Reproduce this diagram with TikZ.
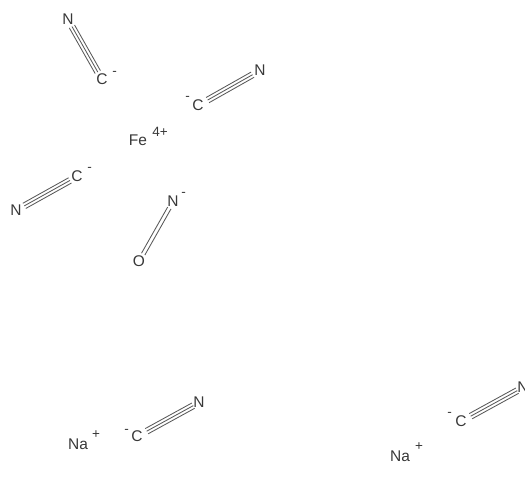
\documentclass[tikz,border=0pt]{standalone}
\usepackage{fontspec}
\usetikzlibrary{calc}
\setmainfont{Liberation Sans}
\definecolor{ink}{gray}{0.22}
\definecolor{bondc}{gray}{0.35}
\tikzset{
  atom/.style={text=ink,font=\fontsize{15.5}{15.5}\selectfont,inner sep=0pt},
  chg/.style={text=ink,font=\fontsize{13.5}{13.5}\selectfont,inner sep=0pt},
  minus/.style={chg,yshift=-1.5pt,xshift=.5pt},
  bondline/.style={draw=bondc,line width=.85pt},
}
\newcommand{\bondends}[4]{%
  \coordinate (bs) at ($(#1)!#3pt!(#2)$);
  \coordinate (be) at ($(#2)!#4pt!(#1)$);
}
\newcommand{\sideline}[1]{%
  \draw[bondline] ($(bs)!#1pt!90:(be)$) -- ($(be)!#1pt!-90:(bs)$);
}
\newcommand{\triplebond}[4]{%
  \bondends{#1}{#2}{#3}{#4}
  \draw[bondline] (bs) -- (be);
  \sideline{3}
  \sideline{-3}
}
\newcommand{\doublebond}[4]{%
  \bondends{#1}{#2}{#3}{#4}
  \sideline{1.9}
  \sideline{-1.9}
}
\begin{document}
\begin{tikzpicture}[x=1pt,y=-1pt]
\useasboundingbox (0,0) rectangle (525,480);
\clip (0,0) rectangle (525,480);
\node[atom] (n1) at (68,19.5) {N};
\node[atom] (c1) at (102,79.5) {C};
\node[minus] (m1) at (114,72) {-};
\node[atom] (c2) at (198,105.5) {C};
\node[atom] (n2) at (260,70.5) {N};
\node[minus] (m2) at (187,97) {-};
\node[atom] (fe) at (138,140.5) {Fe};
\node[chg] (q) at (160,132) {4+};
\node[atom] (c3) at (77,176.5) {C};
\node[atom] (n3) at (16,210.5) {N};
\node[minus] (m3) at (89,168) {-};
\node[atom] (n4) at (173,201.5) {N};
\node[minus] (m4) at (183,193) {-};
\node[atom] (o) at (139,261.5) {O};
\node[atom] (c4) at (137,436.5) {C};
\node[atom] (n5) at (199,402.5) {N};
\node[minus] (m5) at (126,430) {-};
\node[atom] (na1) at (78,444.5) {Na};
\node[chg] (p1) at (96,435) {+};
\node[atom] (c5) at (461,421.5) {C};
\node[atom] (n6) at (523,387.5) {N};
\node[minus] (m6) at (449,413) {-};
\node[atom] (na2) at (400,456.5) {Na};
\node[chg] (p2) at (419,447) {+};
\triplebond{n1}{c1}{8}{8.5}
\triplebond{c2}{n2}{11}{8.5}
\triplebond{c3}{n3}{8}{9.5}
\triplebond{c4}{n5}{11}{6.5}
\triplebond{c5}{n6}{11}{6.5}
\doublebond{n4}{o}{7.5}{8.5}
\end{tikzpicture}
\end{document}
